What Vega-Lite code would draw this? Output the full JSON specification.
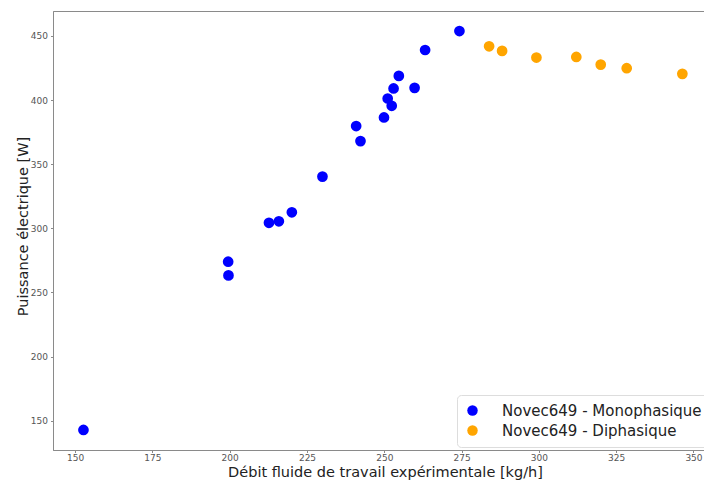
{
  "$schema": "https://vega.github.io/schema/vega-lite/v6.json",
  "width": 651,
  "height": 439,
  "autosize": {"type": "none"},
  "padding": {"left": 53, "top": 11, "right": 0, "bottom": 30},
  "background": "white",
  "config": {
    "font": "DejaVu Sans",
    "view": {"stroke": "#8a8a8a", "strokeWidth": 1},
    "axis": {
      "grid": false,
      "domainColor": "#8a8a8a",
      "tickColor": "#8a8a8a",
      "tickSize": 2.5,
      "labelColor": "#555555",
      "labelFontSize": 9,
      "labelFont": "DejaVu Sans",
      "titleFont": "DejaVu Sans",
      "titleFontWeight": "normal",
      "titleFontSize": 14.5,
      "titleColor": "#222222"
    }
  },
  "data": {
    "values": [
      {"debit": 152.7, "puissance": 142.8, "serie": "Novec649 - Monophasique"},
      {"debit": 199.5, "puissance": 274.0, "serie": "Novec649 - Monophasique"},
      {"debit": 199.6, "puissance": 263.3, "serie": "Novec649 - Monophasique"},
      {"debit": 212.7, "puissance": 304.3, "serie": "Novec649 - Monophasique"},
      {"debit": 215.9, "puissance": 305.5, "serie": "Novec649 - Monophasique"},
      {"debit": 220.1, "puissance": 312.5, "serie": "Novec649 - Monophasique"},
      {"debit": 230.0, "puissance": 340.3, "serie": "Novec649 - Monophasique"},
      {"debit": 240.9, "puissance": 379.7, "serie": "Novec649 - Monophasique"},
      {"debit": 242.3, "puissance": 368.0, "serie": "Novec649 - Monophasique"},
      {"debit": 249.9, "puissance": 386.4, "serie": "Novec649 - Monophasique"},
      {"debit": 251.1, "puissance": 401.2, "serie": "Novec649 - Monophasique"},
      {"debit": 252.4, "puissance": 395.5, "serie": "Novec649 - Monophasique"},
      {"debit": 253.0, "puissance": 409.0, "serie": "Novec649 - Monophasique"},
      {"debit": 254.7, "puissance": 418.8, "serie": "Novec649 - Monophasique"},
      {"debit": 259.8, "puissance": 409.5, "serie": "Novec649 - Monophasique"},
      {"debit": 263.2, "puissance": 439.0, "serie": "Novec649 - Monophasique"},
      {"debit": 274.3, "puissance": 453.8, "serie": "Novec649 - Monophasique"},
      {"debit": 283.9, "puissance": 441.9, "serie": "Novec649 - Diphasique"},
      {"debit": 288.1, "puissance": 438.3, "serie": "Novec649 - Diphasique"},
      {"debit": 299.2, "puissance": 433.1, "serie": "Novec649 - Diphasique"},
      {"debit": 312.1, "puissance": 433.6, "serie": "Novec649 - Diphasique"},
      {"debit": 320.0, "puissance": 427.6, "serie": "Novec649 - Diphasique"},
      {"debit": 328.4, "puissance": 424.8, "serie": "Novec649 - Diphasique"},
      {"debit": 346.4, "puissance": 420.4, "serie": "Novec649 - Diphasique"}
    ]
  },
  "mark": {"type": "circle", "size": 115, "opacity": 1},
  "encoding": {
    "x": {
      "field": "debit",
      "type": "quantitative",
      "scale": {"domain": [142.85, 353.4], "nice": false, "zero": false},
      "axis": {
        "title": "Débit fluide de travail expérimentale [kg/h]",
        "values": [150, 175, 200, 225, 250, 275, 300, 325, 350],
        "titleX": 332,
        "titleY": 26.3,
        "titleBaseline": "alphabetic",
        "labelPadding": 1
      }
    },
    "y": {
      "field": "puissance",
      "type": "quantitative",
      "scale": {"domain": [127.2, 469.4], "nice": false, "zero": false},
      "axis": {
        "title": "Puissance électrique [W]",
        "values": [150, 200, 250, 300, 350, 400, 450],
        "titleX": -26,
        "titleY": 215,
        "titleBaseline": "alphabetic",
        "labelPadding": 3
      }
    },
    "color": {
      "field": "serie",
      "type": "nominal",
      "scale": {
        "domain": ["Novec649 - Monophasique", "Novec649 - Diphasique"],
        "range": ["#0000ff", "#ffa500"]
      },
      "legend": {
        "title": null,
        "orient": "none",
        "legendX": 404,
        "legendY": 384,
        "labelFontSize": 15,
        "labelFont": "DejaVu Sans",
        "labelColor": "#222222",
        "symbolType": "circle",
        "symbolSize": 110,
        "symbolOpacity": 1,
        "rowPadding": 4,
        "labelOffset": 22,
        "padding": 8,
        "fillColor": "white",
        "strokeColor": "#dddddd",
        "cornerRadius": 4,
        "labelLimit": 400
      }
    }
  }
}
